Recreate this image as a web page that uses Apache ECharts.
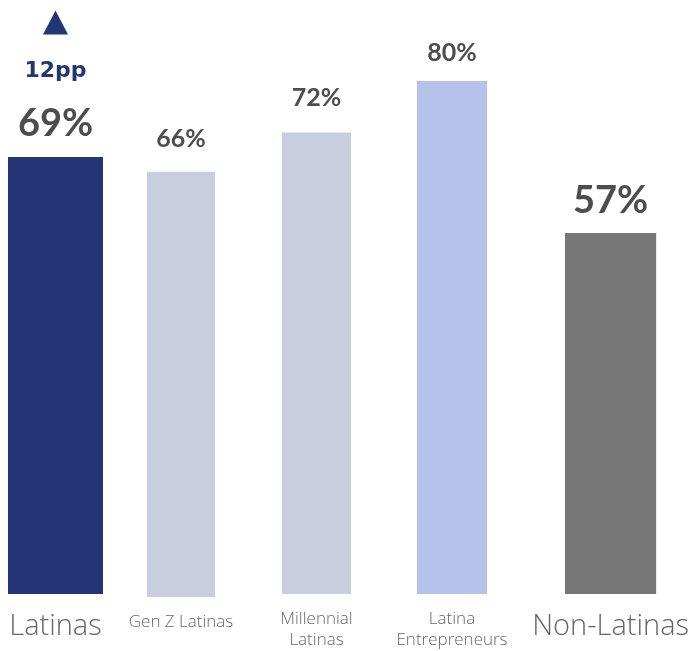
<!DOCTYPE html>
<html>
<head>
<meta charset="utf-8">
<script src="https://cdn.jsdelivr.net/npm/echarts@6/dist/echarts.min.js"></script>
<style>html,body{margin:0;padding:0;background:#fff}#c{width:692px;height:651px}</style>
</head>
<body>
<div id="c"></div>
<script>
const categories = ['Latinas', 'Gen Z Latinas', 'Millennial\nLatinas', 'Latina\nEntrepreneurs', 'Non-Latinas'];
const values = [69, 66, 72, 80, 57];
const changeLabel = '12pp';

const colors = ['#233574', '#c8cede', '#c8cede', '#b6c2e9', '#777777'];
const gridLayout = [
  {left: 8, width: 95, top: 24, bottom: 57},
  {left: 147, width: 68, top: 17, bottom: 54},
  {left: 282, width: 69, top: 17, bottom: 54},
  {left: 417, width: 70, top: 17, bottom: 54},
  {left: 565, width: 94, top: 24, bottom: 57}
];
const big = [true, false, false, false, true];
const labelDist = [14, 20, 21, 15, 13];
const FONT = 'Lato, "Noto Sans", sans-serif';
const CAT_FONT = '"Open Sans", Lato, sans-serif';

const chart = echarts.init(document.getElementById('c'), null, {renderer: 'canvas'});
const grid = [], xAxis = [], yAxis = [], series = [];
categories.forEach((cat, i) => {
  grid.push(Object.assign({containLabel: false}, gridLayout[i]));
  xAxis.push({
    type: 'category', gridIndex: i, data: [cat],
    axisLine: {show: false}, axisTick: {show: false},
    axisLabel: {
      interval: 0, color: '#666', fontFamily: CAT_FONT, fontWeight: 300,
      fontSize: big[i] ? 29 : 17, lineHeight: big[i] ? 30 : 21,
      margin: big[i] ? 18 : 15
    }
  });
  yAxis.push({type: 'value', gridIndex: i, min: 0, max: 90, show: false, splitLine: {show: false}});
  const s = {
    type: 'bar', xAxisIndex: i, yAxisIndex: i, barWidth: '100%',
    data: [values[i]],
    itemStyle: {color: colors[i]},
    label: {
      show: true, position: 'top', distance: labelDist[i],
      color: '#4d4d4d', fontFamily: FONT, fontWeight: 'bold',
      fontSize: big[i] ? 38 : 25, lineHeight: big[i] ? 38 : 26,
      formatter: p => p.value + '%'
    },
    silent: true, animation: false
  };
  if (i === 0) {
    s.label.formatter = p => '{pp|' + changeLabel + '}\n{v|' + p.value + '%}';
    s.label.rich = {
      pp: {color: '#233574', fontFamily: '"DejaVu Sans", Lato, sans-serif', fontWeight: 'bold', fontSize: 22, lineHeight: 68},
      v: {color: '#4d4d4d', fontFamily: FONT, fontWeight: 'bold', fontSize: 38, lineHeight: 38}
    };
    s.markPoint = {
      symbol: 'triangle', symbolSize: [25, 24], symbolOffset: [0, -134.5],
      itemStyle: {color: '#233574'}, label: {show: false},
      data: [{coord: [cat, values[i]]}]
    };
  }
  series.push(s);
});

chart.setOption({animation: false, grid, xAxis, yAxis, series});
</script>
</body>
</html>
